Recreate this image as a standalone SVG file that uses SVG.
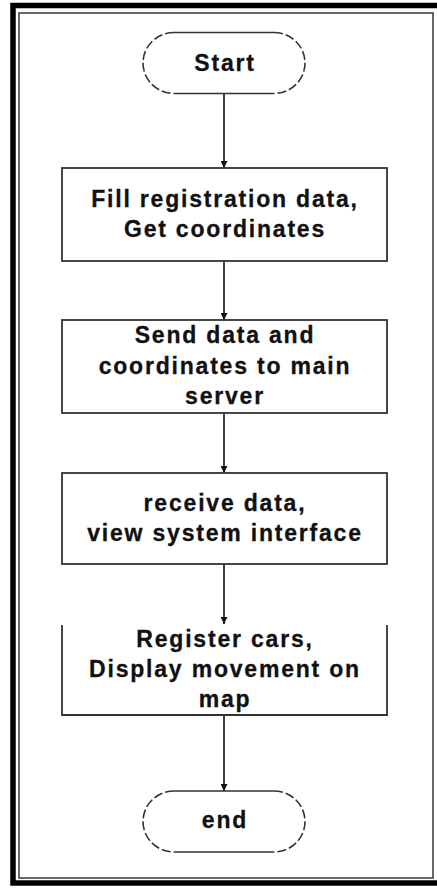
<svg xmlns="http://www.w3.org/2000/svg" width="437" height="888" viewBox="0 0 437 888">
  <style>
    .frame-outer { fill: none; stroke: #000; stroke-width: 5.5; }
    .frame-inner { fill: none; stroke: #444; stroke-width: 1.6; }
    .box { fill: #fff; stroke: #333; stroke-width: 1.8; }
    .term-line { fill: none; stroke: #333; stroke-width: 1.6; }
    .term-arc { fill: none; stroke: #333; stroke-width: 1.6; stroke-dasharray: 9 3; }
    .flow { fill: none; stroke: #111; stroke-width: 1.6; marker-end: url(#arrow); }
    .label { font-family: "Liberation Sans", Arial, sans-serif; font-weight: bold; font-size: 23px; letter-spacing: 1.8px; fill: #111; text-anchor: middle; stroke: #111; stroke-width: 0.3; }
  </style>
  <defs>
    <marker id="arrow" viewBox="0 0 10 10" refX="10" refY="5" markerWidth="8" markerHeight="7" orient="auto" markerUnits="userSpaceOnUse">
      <path d="M0,0 L10,5 L0,10 Z" fill="#111"/>
    </marker>
  </defs>

  <rect width="437" height="888" fill="#fff"/>

  <!-- page frame -->
  <g id="frame">
    <rect class="frame-outer" x="13" y="5.5" width="428" height="877.5"/>
    <rect class="frame-inner" x="19" y="13" width="414" height="865"/>
  </g>

  <!-- connectors -->
  <g id="connectors">
    <line class="flow" x1="224" y1="94" x2="224" y2="168"/>
    <line class="flow" x1="224" y1="261" x2="224" y2="320"/>
    <line class="flow" x1="224" y1="413" x2="224" y2="473"/>
    <line class="flow" x1="224" y1="564" x2="224" y2="624"/>
    <line class="flow" x1="224" y1="715" x2="224" y2="791"/>
  </g>

  <g id="start">
    <path class="term-line" d="M174,32.5 H274 M174,93.5 H274"/>
    <path class="term-arc" d="M174,32.5 A31,30.5 0 0 0 174,93.5 M274,32.5 A31,30.5 0 0 1 274,93.5"/>
    <text class="label" x="225" y="71">Start</text>
  </g>

  <g id="fill-registration">
    <rect class="box" x="62" y="168" width="325" height="93"/>
    <text class="label" x="225" y="207">Fill registration data,</text>
    <text class="label" x="225" y="237">Get coordinates</text>
  </g>

  <g id="send-data">
    <rect class="box" x="62" y="320" width="325" height="93"/>
    <text class="label" x="225" y="343">Send data and</text>
    <text class="label" x="225" y="374">coordinates to main</text>
    <text class="label" x="225" y="404">server</text>
  </g>

  <g id="receive-data">
    <rect class="box" x="62" y="473" width="325" height="91"/>
    <text class="label" x="225" y="511">receive data,</text>
    <text class="label" x="225" y="541">view system interface</text>
  </g>

  <g id="register-cars">
    <path class="box" d="M62,625 V715 H387 V625"/>
    <text class="label" x="225" y="647">Register cars,</text>
    <text class="label" x="225" y="677">Display movement on</text>
    <text class="label" x="225" y="707">map</text>
  </g>

  <g id="end">
    <path class="term-line" d="M174,791 H274 M174,852 H274"/>
    <path class="term-arc" d="M174,791 A31,30.5 0 0 0 174,852 M274,791 A31,30.5 0 0 1 274,852"/>
    <text class="label" x="225" y="828">end</text>
  </g>
</svg>
